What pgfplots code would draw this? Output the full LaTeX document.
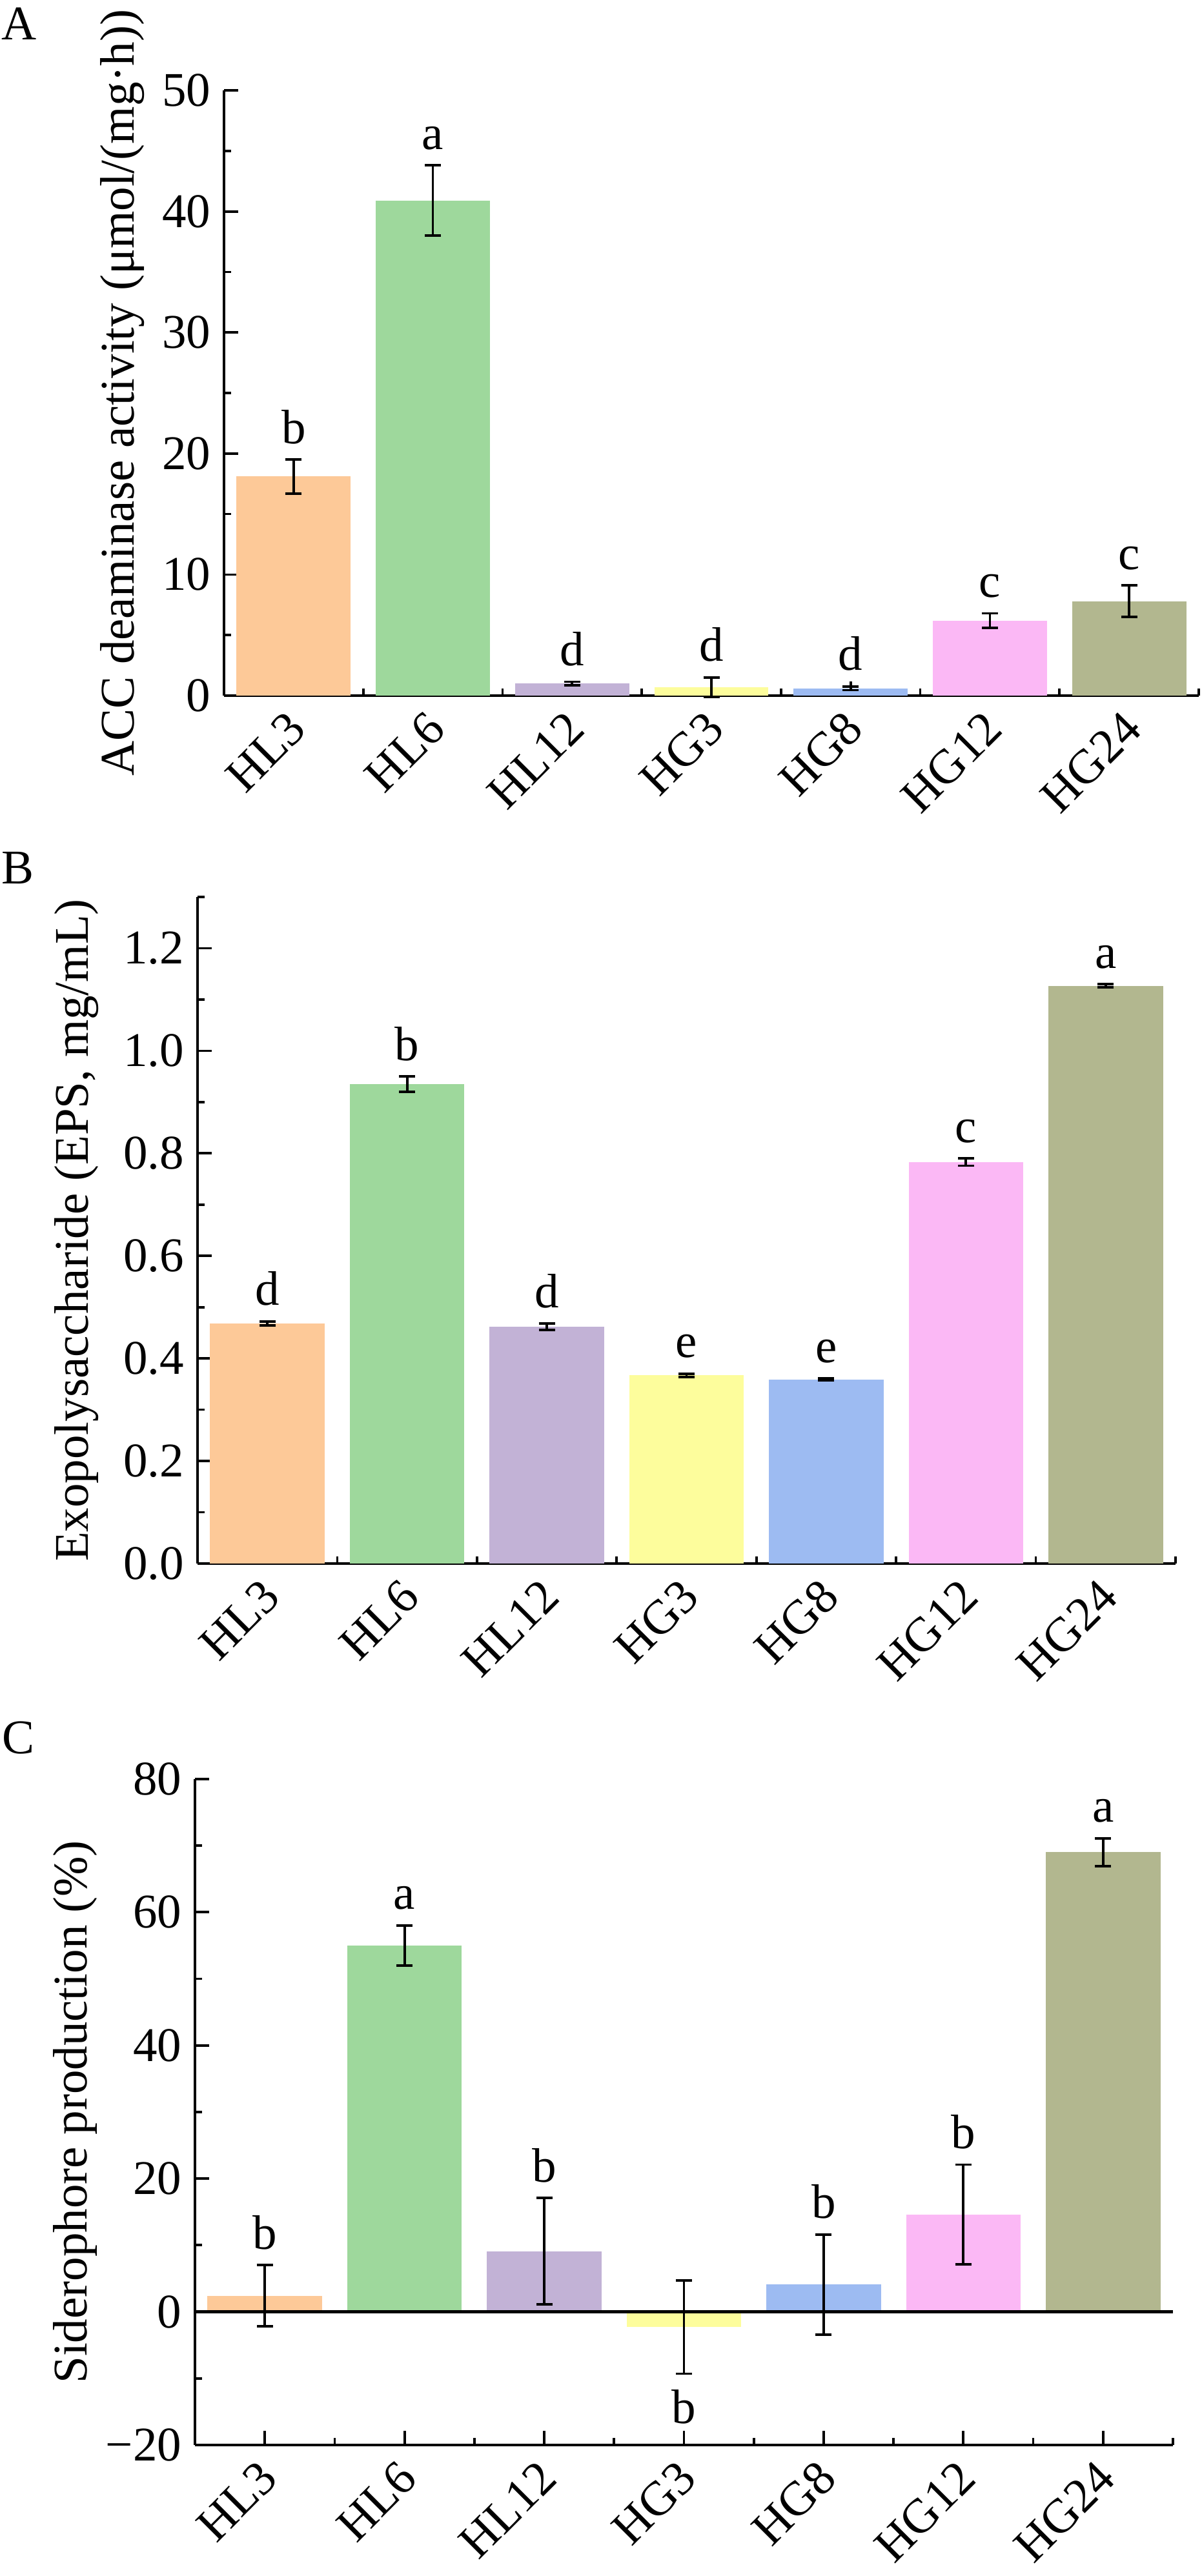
\documentclass[border=0pt]{standalone}
\usepackage{fontspec}
\setmainfont{Liberation Serif}
\usepackage{pgfplots}
\usepackage{pgfplotstable}
\pgfplotsset{compat=1.18}
\newcommand\ff{\fontsize{18bp}{21.6bp}\selectfont}

\definecolor{c0}{HTML}{FDC998}
\definecolor{c1}{HTML}{9ED89C}
\definecolor{c2}{HTML}{C2B2D6}
\definecolor{c3}{HTML}{FDFD9C}
\definecolor{c4}{HTML}{9DBBF2}
\definecolor{c5}{HTML}{FBB8F5}
\definecolor{c6}{HTML}{B2B78F}

\pgfplotstableread{
x y e lab
0 18.1 1.4 b
1 40.9 2.9 a
2 1.0 0.15 d
3 0.7 0.8 d
4 0.6 0.15 d
5 6.2 0.6 c
6 7.8 1.3 c
}\tabA

\pgfplotstableread{
x y e lab
0 0.468 0.004 d
1 0.935 0.015 b
2 0.462 0.006 d
3 0.367 0.003 e
4 0.359 0.002 e
5 0.783 0.007 c
6 1.127 0.003 a
}\tabB

\pgfplotstableread{
x y e lab
0 2.4 4.6 b
1 55.0 3.0 a
2 9.1 8.0 b
3 -2.3 7.0 b
4 4.1 7.5 b
5 14.6 7.5 b
6 69.0 2.1 a
}\tabC

\pgfplotsset{
 panel/.style={
  scale only axis,
  anchor=south west,
  axis x line*=bottom, axis y line*=left,
  axis line style={line width=1.1bp},
  xmin=-0.5, xmax=6.5,
  xtick={0,1,2,3,4,5,6},
  xticklabels={HL3,HL6,HL12,HG3,HG8,HG12,HG24},
  minor xtick={-0.5,0.5,1.5,2.5,3.5,4.5,5.5,6.5},
  tick align=inside,
  major tick length=5.3bp, minor tick length=2.6bp,
  every tick/.style={black, line width=0.9bp},
  tick label style={font=\ff},
  xticklabel style={xshift=-3bp, rotate=45, anchor=north east},
  yticklabel style={xshift=-1.5bp},
  every axis y label/.style={rotate=90, anchor=base, font=\ff},
  /pgf/number format/assume math mode=true,
  clip=false,
 },
 barsty/.style={ybar, bar width=0.82, bar shift=0pt, draw=none, fill=#1,
    error bars/.cd, y dir=both, y explicit,
    error bar style={line width=0.9bp, black},
    error mark options={rotate=90, mark size=3bp, line width=0.9bp, black}},
 labsty/.style={draw=none, mark=none, nodes near coords, point meta=explicit symbolic,
    nodes near coords style={anchor=base, yshift=#1, font=\ff, text=black}},
 labsty/.default=6bp,
}

\newcommand\bars[1]{%
 \pgfplotsinvokeforeach{0,...,6}{%
  \addplot[x filter/.expression={x==##1 ? x : nan}, barsty=c##1] table[x=x, y=y, y error=e] {#1};
 }%
}

\begin{document}
\begin{tikzpicture}
\path[use as bounding box] (0,0) rectangle (446.64bp,958.08bp);

\node[anchor=base west, inner sep=0, font=\ff] at (0.4bp,943.2bp) {A};
\node[anchor=base west, inner sep=0, font=\ff] at (0.4bp,629.3bp) {B};
\node[anchor=base west, inner sep=0, font=\ff] at (0.7bp,305.8bp) {C};

% Panel A
\begin{axis}[panel, at={(83.28bp,699.36bp)}, width=362.4bp, height=225.1bp,
  ymin=0, ymax=50, ytick={0,10,20,30,40,50}, yticklabels={0,10,20,30,40,50},
  minor ytick={5,15,25,35,45},
  ylabel={ACC deaminase activity (μmol/(mg·h))},
  ylabel style={at={(axis description cs:-0.0927,0.5)}}]
\bars{\tabA}
\addplot[labsty] table[x=x, y expr=\thisrow{y}+\thisrow{e}, meta=lab] {\tabA};
\end{axis}

% Panel B
\begin{axis}[panel, at={(73.44bp,376.56bp)}, width=363.6bp, height=247.9bp,
  ymin=0, ymax=1.3, ytick={0,0.2,0.4,0.6,0.8,1.0,1.2},
  yticklabels={0.0,0.2,0.4,0.6,0.8,1.0,1.2},
  minor ytick={0.1,0.3,0.5,0.7,0.9,1.1,1.3},
  ylabel={Exopolysaccharide (EPS, mg/mL)},
  ylabel style={at={(axis description cs:-0.1117,0.5)}}]
\bars{\tabB}
\addplot[labsty] table[x=x, y expr=\thisrow{y}+\thisrow{e}, meta=lab] {\tabB};
\end{axis}

% Panel C
\begin{axis}[panel, at={(72.48bp,48.72bp)}, width=363.6bp, height=247.7bp,
  ymin=-20, ymax=80, ytick={-20,0,20,40,60,80},
  yticklabels={−20,0,20,40,60,80},
  minor ytick={-10,10,30,50,70},
  ylabel={Siderophore production (\%)},
  ylabel style={at={(axis description cs:-0.1108,0.5)}}]
\bars{\tabC}
\addplot[black, line width=1.1bp, mark=none] coordinates {(-0.5,0) (6.5,0)};
\addplot[labsty, x filter/.expression={x==3 ? nan : x}] table[x=x, y expr=\thisrow{y}+\thisrow{e}, meta=lab] {\tabC};
\addplot[labsty=-18.5bp, x filter/.expression={x==3 ? x : nan}] table[x=x, y expr=\thisrow{y}-\thisrow{e}, meta=lab] {\tabC};
\end{axis}
\end{tikzpicture}
\end{document}
